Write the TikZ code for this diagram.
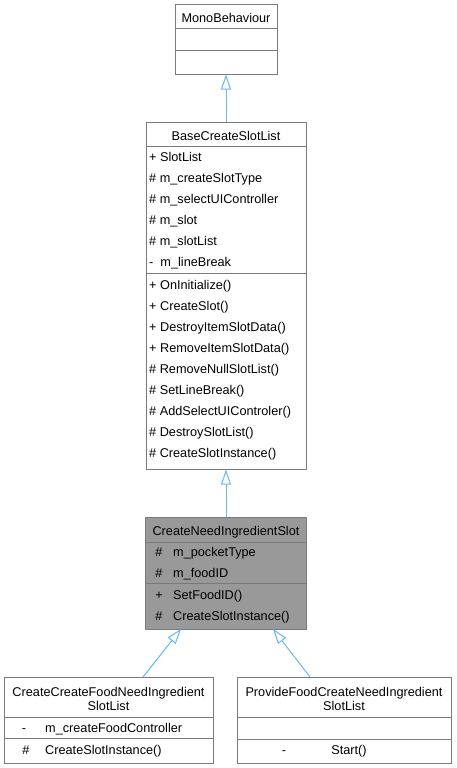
\documentclass[tikz,border=0pt]{standalone}
\usepackage{fontspec}
\setmainfont{Liberation Sans}
\usetikzlibrary{arrows.meta}
\definecolor{bord}{HTML}{7A7A7A}
\definecolor{edgeblue}{HTML}{63B8FF}
\definecolor{grayfill}{HTML}{999999}
\tikzset{
  cls/.style={draw=bord, line width=1pt, fill=white, inner sep=0pt, rectangle},
  sepline/.style={draw=bord, line width=1pt},
  txt/.style={inner sep=0pt, anchor=base west, font=\fontsize{12.7}{15}\selectfont},
  ctxt/.style={inner sep=0pt, anchor=base, font=\fontsize{12.7}{15}\selectfont},
  inherit/.style={draw=edgeblue, line width=1pt, -{Triangle[open, length=15pt, width=10pt, fill=white]}}
}
\begin{document}
\begin{tikzpicture}[x=1pt,y=-1pt]
\useasboundingbox (0,0) rectangle (456,768);
% MonoBehaviour
\node[cls, minimum width=102pt, minimum height=69pt] (mono) at (226,39.5) {};
\draw[sepline] (175,29) -- (277,29);
\draw[sepline] (175,51) -- (277,51);
\node[ctxt] (monot) at (226,23) {MonoBehaviour};
% BaseCreateSlotList
\node[cls, minimum width=160pt, minimum height=347pt] (base) at (226,295.5) {};
\draw[sepline] (146,146) -- (306,146);
\draw[sepline] (146,273) -- (306,273);
\node[ctxt] (baset) at (226,140) {BaseCreateSlotList};
\node[txt] (ba1) at (149,161.5) {+ SlotList};
\node[txt] (ba2) at (149,182.4) {\# m\_createSlotType};
\node[txt] (ba3) at (149,203.3) {\# m\_selectUIController};
\node[txt] (ba4) at (149,224.2) {\# m\_slot};
\node[txt] (ba5) at (149,245.1) {\# m\_slotList};
\node[txt] (ba6) at (149,266) {-\ \ m\_lineBreak};
\node[txt] (bm1) at (149,289) {+ OnInitialize()};
\node[txt] (bm2) at (149,310) {+ CreateSlot()};
\node[txt] (bm3) at (149,331) {+ DestroyItemSlotData()};
\node[txt] (bm4) at (149,352) {+ RemoveItemSlotData()};
\node[txt] (bm5) at (149,373) {\# RemoveNullSlotList()};
\node[txt] (bm6) at (149,394) {\# SetLineBreak()};
\node[txt] (bm7) at (149,415) {\# AddSelectUIControler()};
\node[txt] (bm8) at (149,436) {\# DestroySlotList()};
\node[txt] (bm9) at (149,457) {\# CreateSlotInstance()};
% CreateNeedIngredientSlot
\node[cls, fill=grayfill, minimum width=161pt, minimum height=112pt] (cnis) at (226,573) {};
\draw[sepline] (145.5,542) -- (306.5,542);
\draw[sepline] (145.5,583) -- (306.5,583);
\node[ctxt] (cnist) at (226,535) {CreateNeedIngredientSlot};
\node[ctxt] (cv1) at (159,556) {\#};
\node[txt] (ca1) at (173,556) {m\_pocketType};
\node[ctxt] (cv2) at (159,577) {\#};
\node[txt] (ca2) at (173,577) {m\_foodID};
\node[ctxt] (cv3) at (159,599) {+};
\node[txt] (cm1) at (173,599) {SetFoodID()};
\node[ctxt] (cv4) at (159,620) {\#};
\node[txt] (cm2) at (173,620) {CreateSlotInstance()};
% left child
\node[cls, minimum width=209pt, minimum height=86pt] (left) at (108.5,720) {};
\draw[sepline] (4,717) -- (213,717);
\draw[sepline] (4,738) -- (213,738);
\node[ctxt] (lt1) at (108.5,696) {CreateCreateFoodNeedIngredient};
\node[ctxt] (lt2) at (108.5,710.5) {SlotList};
\node[ctxt] (lv1) at (24,732) {-};
\node[txt] (la1) at (45,732) {m\_createFoodController};
\node[ctxt] (lv2) at (26,754) {\#};
\node[txt] (lm1) at (45,754) {CreateSlotInstance()};
% right child
\node[cls, minimum width=214pt, minimum height=86pt] (right) at (344,720) {};
\draw[sepline] (237,717) -- (451,717);
\draw[sepline] (237,739) -- (451,739);
\node[ctxt] (rt1) at (344,696) {ProvideFoodCreateNeedIngredient};
\node[ctxt] (rt2) at (344,710.5) {SlotList};
\node[ctxt] (rv1) at (284,754) {-};
\node[ctxt] (rm1) at (349,754) {Start()};
% connectors
\coordinate (tipL) at (181,629);
\coordinate (tipR) at (273,629);
\coordinate (tailL) at (143,677);
\coordinate (tailR) at (310,677);
\draw[inherit] (base.north) -- (mono.south);
\draw[inherit] (cnis.north) -- (base.south);
\draw[inherit] (tailL) -- (tipL);
\draw[inherit] (tailR) -- (tipR);
\end{tikzpicture}
\end{document}
